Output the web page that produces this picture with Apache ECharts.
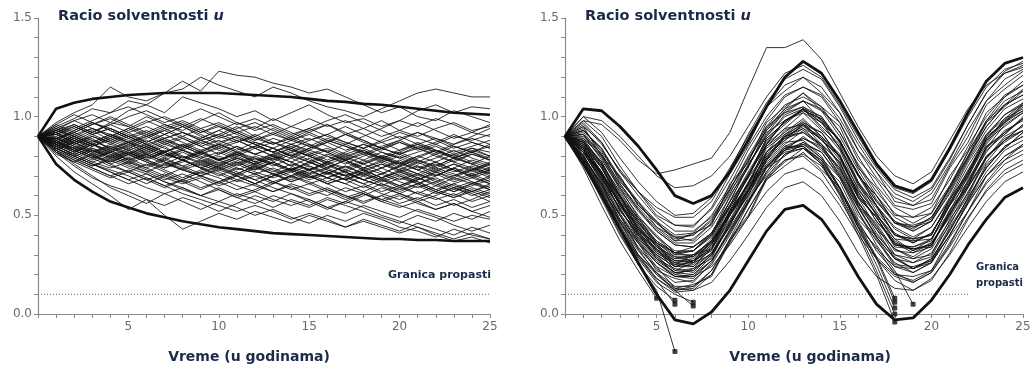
<!DOCTYPE html>
<html>
<head>
<meta charset="utf-8">
<script src="https://cdn.jsdelivr.net/npm/echarts@6/dist/echarts.min.js"></script>
<style>
  html, body { margin: 0; padding: 0; background: #fff; }
  #chart { width: 1034px; height: 369px; }
</style>
</head>
<body>
<div id="chart"></div>
<script>
const years = [0,1,2,3,4,5,6,7,8,9,10,11,12,13,14,15,16,17,18,19,20,21,22,23,24,25];
const ruinLevel = 0.1;

// left panel: constant premium, simulated paths + bounds
const leftUpper = [0.90,1.04,1.07,1.09,1.10,1.11,1.115,1.12,1.12,1.12,1.12,1.115,1.11,1.105,1.10,1.09,1.08,1.075,1.065,1.06,1.05,1.04,1.03,1.02,1.015,1.01];
const leftLower = [0.90,0.76,0.68,0.62,0.57,0.54,0.51,0.49,0.47,0.455,0.44,0.43,0.42,0.41,0.405,0.40,0.395,0.39,0.385,0.38,0.38,0.375,0.375,0.37,0.37,0.37];
const leftPaths = [
  [0.90,0.97,1.02,1.06,1.15,1.10,1.08,1.12,1.18,1.13,1.23,1.21,1.20,1.17,1.15,1.12,1.14,1.10,1.06,1.02,1.05,1.00,0.98,1.03,1.00,0.97],
  [0.90,0.95,0.99,1.04,1.02,1.08,1.06,1.12,1.14,1.20,1.16,1.13,1.10,1.15,1.12,1.08,1.05,1.03,1.00,1.04,1.08,1.12,1.14,1.12,1.10,1.10],
  [0.90,0.93,0.98,1.01,0.97,1.03,1.06,1.02,1.10,1.07,1.04,1.00,1.03,0.98,1.02,1.06,1.01,0.97,0.99,0.95,0.98,1.03,1.06,1.02,1.05,1.04],
  [0.90,0.92,0.96,0.92,0.97,0.95,1.00,0.96,0.93,0.98,1.02,0.97,0.94,0.99,0.95,0.92,0.96,0.91,0.94,0.98,0.93,0.90,0.94,0.97,0.93,0.95],
  [0.90,0.88,0.93,0.97,0.94,0.90,0.93,0.89,0.92,0.88,0.91,0.95,0.90,0.86,0.90,0.94,0.90,0.87,0.84,0.88,0.92,0.89,0.86,0.90,0.88,0.91],
  [0.90,0.86,0.89,0.85,0.88,0.92,0.87,0.91,0.95,0.90,0.86,0.83,0.87,0.84,0.80,0.84,0.88,0.85,0.82,0.78,0.81,0.85,0.82,0.79,0.83,0.80],
  [0.90,0.91,0.87,0.90,0.86,0.83,0.86,0.82,0.85,0.81,0.84,0.80,0.76,0.79,0.83,0.80,0.77,0.81,0.78,0.74,0.77,0.73,0.76,0.72,0.75,0.71],
  [0.90,0.84,0.80,0.83,0.79,0.82,0.78,0.75,0.78,0.74,0.77,0.73,0.76,0.79,0.75,0.71,0.74,0.70,0.73,0.69,0.72,0.68,0.71,0.67,0.70,0.66],
  [0.90,0.82,0.78,0.74,0.70,0.73,0.69,0.65,0.68,0.64,0.67,0.63,0.66,0.62,0.65,0.61,0.64,0.60,0.57,0.60,0.56,0.59,0.55,0.58,0.54,0.57],
  [0.90,0.80,0.72,0.66,0.60,0.53,0.58,0.50,0.43,0.47,0.51,0.48,0.52,0.49,0.46,0.50,0.47,0.44,0.48,0.45,0.42,0.46,0.43,0.40,0.44,0.41],
  [0.90,0.83,0.76,0.70,0.64,0.60,0.56,0.61,0.57,0.53,0.57,0.54,0.50,0.53,0.49,0.46,0.50,0.47,0.51,0.48,0.44,0.42,0.39,0.43,0.40,0.38],
  [0.90,0.87,0.83,0.87,0.91,0.88,0.84,0.80,0.84,0.88,0.85,0.81,0.85,0.89,0.86,0.82,0.78,0.82,0.86,0.83,0.87,0.84,0.80,0.77,0.81,0.78],
  [0.90,0.94,0.90,0.86,0.82,0.86,0.90,0.94,0.90,0.86,0.90,0.94,0.97,0.93,0.89,0.93,0.96,0.92,0.88,0.84,0.87,0.83,0.86,0.82,0.85,0.88],
  [0.90,0.89,0.85,0.81,0.77,0.81,0.77,0.73,0.69,0.73,0.76,0.72,0.68,0.71,0.67,0.70,0.66,0.62,0.65,0.61,0.58,0.62,0.59,0.55,0.58,0.62],
  [0.90,0.85,0.88,0.84,0.81,0.77,0.74,0.78,0.82,0.78,0.74,0.71,0.75,0.78,0.82,0.86,0.82,0.78,0.74,0.77,0.73,0.70,0.74,0.71,0.67,0.64],
  [0.90,0.96,1.01,0.97,0.93,0.89,0.92,0.88,0.85,0.89,0.93,0.89,0.86,0.82,0.79,0.83,0.80,0.76,0.80,0.84,0.81,0.77,0.81,0.85,0.82,0.86],
  [0.90,0.81,0.77,0.81,0.76,0.72,0.76,0.72,0.68,0.72,0.69,0.65,0.62,0.66,0.70,0.67,0.63,0.60,0.56,0.60,0.64,0.61,0.65,0.69,0.66,0.70],
  [0.90,0.88,0.92,0.96,0.99,0.95,0.91,0.95,0.98,0.94,0.90,0.87,0.91,0.87,0.84,0.88,0.91,0.95,0.91,0.87,0.90,0.86,0.83,0.79,0.76,0.73],
  [0.90,0.87,0.83,0.79,0.75,0.72,0.68,0.64,0.68,0.72,0.75,0.79,0.76,0.72,0.76,0.73,0.69,0.66,0.70,0.74,0.70,0.67,0.63,0.60,0.64,0.61],
  [0.90,0.92,0.88,0.85,0.89,0.93,0.97,1.00,0.96,0.92,0.95,0.91,0.87,0.84,0.80,0.77,0.81,0.78,0.74,0.71,0.75,0.79,0.83,0.80,0.84,0.82],
  [0.90,0.84,0.79,0.75,0.78,0.74,0.71,0.67,0.64,0.60,0.63,0.59,0.56,0.60,0.57,0.54,0.58,0.55,0.52,0.49,0.46,0.50,0.47,0.51,0.48,0.52],
  [0.90,0.86,0.82,0.86,0.83,0.79,0.83,0.87,0.83,0.80,0.76,0.80,0.84,0.80,0.77,0.73,0.77,0.74,0.78,0.82,0.79,0.75,0.72,0.76,0.73,0.69],
  [0.90,0.93,0.96,0.92,0.96,1.00,1.03,0.99,0.95,0.99,0.95,0.92,0.95,0.91,0.88,0.85,0.89,0.86,0.90,0.94,0.98,0.95,0.99,0.96,0.92,0.90],
  [0.90,0.85,0.81,0.77,0.80,0.76,0.80,0.83,0.79,0.82,0.78,0.74,0.71,0.74,0.70,0.73,0.76,0.72,0.68,0.71,0.67,0.64,0.67,0.63,0.66,0.63],
  [0.90,0.89,0.86,0.90,0.87,0.83,0.79,0.82,0.78,0.75,0.79,0.76,0.72,0.69,0.72,0.68,0.71,0.75,0.71,0.68,0.64,0.68,0.72,0.69,0.73,0.76],
  [0.90,0.83,0.87,0.83,0.80,0.84,0.80,0.76,0.80,0.77,0.81,0.85,0.81,0.78,0.82,0.78,0.75,0.72,0.68,0.65,0.69,0.66,0.70,0.74,0.78,0.75],
  [0.90,0.91,0.94,0.98,1.02,1.05,1.01,0.97,1.00,1.04,1.00,0.96,0.99,0.95,0.91,0.94,0.98,1.01,0.97,0.93,0.89,0.92,0.88,0.84,0.87,0.84],
  [0.90,0.82,0.75,0.69,0.65,0.62,0.58,0.55,0.59,0.56,0.52,0.56,0.60,0.57,0.61,0.58,0.54,0.51,0.55,0.52,0.49,0.53,0.50,0.47,0.50,0.48],
  [0.90,0.87,0.90,0.86,0.90,0.86,0.82,0.86,0.83,0.87,0.83,0.79,0.76,0.80,0.77,0.81,0.84,0.80,0.83,0.79,0.76,0.80,0.77,0.73,0.70,0.73],
  [0.90,0.86,0.83,0.79,0.82,0.85,0.81,0.77,0.73,0.76,0.72,0.68,0.65,0.62,0.66,0.63,0.60,0.64,0.61,0.58,0.55,0.52,0.49,0.45,0.42,0.45],
  [0.90,0.95,0.91,0.94,0.90,0.87,0.90,0.93,0.89,0.85,0.88,0.84,0.81,0.84,0.88,0.92,0.88,0.85,0.81,0.85,0.88,0.92,0.89,0.86,0.90,0.94],
  [0.90,0.88,0.84,0.80,0.84,0.81,0.85,0.81,0.78,0.74,0.70,0.74,0.71,0.67,0.70,0.74,0.71,0.68,0.72,0.68,0.65,0.69,0.66,0.62,0.65,0.68],
  [0.90,0.91,0.87,0.91,0.94,0.90,0.86,0.89,0.92,0.88,0.84,0.87,0.90,0.94,0.90,0.86,0.82,0.86,0.82,0.79,0.82,0.78,0.75,0.79,0.82,0.79],
  [0.90,0.84,0.80,0.76,0.73,0.70,0.66,0.70,0.67,0.63,0.67,0.71,0.68,0.64,0.61,0.57,0.53,0.57,0.54,0.50,0.47,0.44,0.40,0.37,0.39,0.36],
  [0.90,0.87,0.84,0.80,0.77,0.81,0.85,0.81,0.78,0.82,0.86,0.90,0.86,0.82,0.86,0.83,0.87,0.91,0.88,0.84,0.81,0.84,0.81,0.77,0.74,0.71],
  [0.90,0.89,0.85,0.82,0.85,0.81,0.77,0.74,0.77,0.81,0.78,0.75,0.79,0.76,0.73,0.77,0.74,0.78,0.82,0.79,0.76,0.73,0.70,0.74,0.71,0.74],
  [0.90,0.92,0.86,0.89,0.83,0.87,0.81,0.85,0.79,0.83,0.78,0.82,0.77,0.80,0.75,0.79,0.74,0.78,0.73,0.76,0.72,0.75,0.70,0.74,0.69,0.72],
  [0.90,0.85,0.89,0.93,0.88,0.84,0.88,0.84,0.80,0.76,0.80,0.77,0.73,0.77,0.81,0.77,0.73,0.70,0.74,0.78,0.74,0.71,0.75,0.79,0.76,0.80],
  [0.90,0.88,0.83,0.79,0.83,0.78,0.74,0.70,0.74,0.70,0.66,0.70,0.66,0.70,0.73,0.69,0.72,0.68,0.64,0.68,0.71,0.67,0.63,0.66,0.62,0.59],
  [0.90,0.94,0.98,0.94,0.90,0.94,0.98,0.94,0.97,0.93,0.89,0.92,0.88,0.91,0.95,0.99,0.95,0.98,0.94,0.90,0.93,0.97,0.93,0.89,0.92,0.96],
  [0.90,0.86,0.80,0.76,0.72,0.68,0.71,0.67,0.63,0.60,0.64,0.60,0.63,0.67,0.63,0.66,0.62,0.58,0.61,0.57,0.60,0.56,0.53,0.56,0.52,0.55],
  [0.90,0.90,0.86,0.82,0.86,0.90,0.86,0.82,0.78,0.82,0.86,0.82,0.79,0.75,0.79,0.75,0.71,0.75,0.71,0.74,0.78,0.74,0.77,0.81,0.77,0.74],
  [0.90,0.83,0.79,0.75,0.79,0.75,0.72,0.76,0.73,0.70,0.73,0.70,0.74,0.71,0.68,0.72,0.69,0.73,0.70,0.66,0.63,0.66,0.62,0.66,0.69,0.66],
  [0.90,0.93,0.90,0.94,0.91,0.87,0.91,0.87,0.90,0.94,0.97,0.93,0.89,0.86,0.89,0.85,0.82,0.78,0.81,0.77,0.80,0.76,0.79,0.83,0.79,0.76],
  [0.90,0.87,0.82,0.86,0.81,0.77,0.81,0.77,0.73,0.70,0.67,0.70,0.66,0.70,0.74,0.70,0.66,0.69,0.73,0.69,0.72,0.69,0.65,0.62,0.66,0.69],
  [0.90,0.96,0.92,0.96,1.00,0.96,0.92,0.96,0.92,0.89,0.93,0.97,0.93,0.96,0.92,0.88,0.91,0.87,0.84,0.87,0.83,0.86,0.89,0.85,0.82,0.85],
  [0.90,0.84,0.87,0.82,0.78,0.82,0.78,0.82,0.78,0.74,0.78,0.81,0.77,0.73,0.69,0.73,0.69,0.72,0.68,0.71,0.75,0.71,0.68,0.64,0.67,0.63],
  [0.90,0.89,0.92,0.88,0.84,0.80,0.84,0.80,0.83,0.79,0.75,0.79,0.75,0.71,0.74,0.70,0.66,0.69,0.66,0.62,0.65,0.61,0.58,0.61,0.57,0.60],
  [0.90,0.82,0.77,0.73,0.69,0.72,0.68,0.71,0.67,0.70,0.74,0.70,0.66,0.70,0.73,0.77,0.73,0.70,0.66,0.69,0.65,0.68,0.72,0.68,0.71,0.67],
  [0.90,0.91,0.95,0.91,0.87,0.91,0.87,0.91,0.95,0.91,0.87,0.90,0.86,0.82,0.86,0.89,0.85,0.81,0.84,0.80,0.83,0.87,0.83,0.79,0.82,0.78],
  [0.90,0.86,0.90,0.86,0.82,0.78,0.81,0.77,0.74,0.77,0.73,0.76,0.80,0.76,0.72,0.75,0.72,0.68,0.72,0.76,0.73,0.77,0.73,0.70,0.73,0.77],
  [0.90,0.85,0.81,0.84,0.80,0.76,0.72,0.68,0.71,0.67,0.63,0.59,0.62,0.58,0.55,0.58,0.54,0.57,0.61,0.57,0.54,0.57,0.53,0.56,0.52,0.49],
  [0.90,0.93,0.89,0.85,0.89,0.85,0.89,0.93,0.96,0.92,0.96,0.92,0.88,0.92,0.88,0.91,0.87,0.91,0.87,0.84,0.88,0.84,0.87,0.91,0.87,0.84],
  [0.90,0.87,0.84,0.80,0.76,0.79,0.75,0.79,0.75,0.78,0.74,0.77,0.73,0.77,0.73,0.76,0.80,0.77,0.73,0.69,0.73,0.69,0.73,0.76,0.72,0.76],
  [0.90,0.88,0.84,0.88,0.84,0.87,0.83,0.79,0.83,0.79,0.82,0.78,0.74,0.77,0.73,0.69,0.72,0.68,0.71,0.67,0.70,0.66,0.69,0.65,0.62,0.65],
  [0.90,0.92,0.88,0.92,0.96,0.92,0.95,0.91,0.87,0.83,0.86,0.82,0.85,0.82,0.85,0.81,0.77,0.80,0.76,0.79,0.75,0.78,0.74,0.78,0.81,0.78],
  [0.90,0.84,0.80,0.76,0.72,0.68,0.64,0.61,0.64,0.60,0.57,0.61,0.58,0.54,0.58,0.55,0.59,0.56,0.60,0.64,0.61,0.58,0.62,0.59,0.63,0.60],
  [0.90,0.89,0.93,0.97,0.93,0.89,0.85,0.89,0.85,0.81,0.85,0.88,0.84,0.87,0.83,0.80,0.83,0.79,0.76,0.80,0.76,0.80,0.83,0.80,0.76,0.72],
  [0.90,0.86,0.82,0.78,0.82,0.78,0.82,0.78,0.75,0.71,0.75,0.71,0.75,0.71,0.67,0.71,0.67,0.71,0.68,0.65,0.61,0.65,0.61,0.64,0.61,0.57],
  [0.90,0.94,0.90,0.86,0.90,0.94,0.90,0.86,0.89,0.85,0.81,0.85,0.81,0.84,0.80,0.84,0.87,0.83,0.86,0.82,0.79,0.82,0.85,0.81,0.84,0.80],
  [0.90,0.85,0.81,0.77,0.74,0.77,0.73,0.69,0.66,0.69,0.65,0.68,0.71,0.67,0.64,0.60,0.63,0.59,0.62,0.58,0.61,0.57,0.60,0.64,0.60,0.63],
  [0.90,0.91,0.87,0.83,0.79,0.83,0.79,0.82,0.86,0.82,0.78,0.81,0.77,0.81,0.84,0.80,0.76,0.72,0.76,0.72,0.68,0.71,0.67,0.70,0.74,0.70],
  [0.90,0.87,0.91,0.87,0.91,0.87,0.84,0.88,0.84,0.88,0.91,0.88,0.84,0.80,0.84,0.80,0.76,0.79,0.83,0.79,0.82,0.86,0.82,0.86,0.89,0.86],
  [0.90,0.83,0.78,0.74,0.70,0.66,0.69,0.65,0.61,0.58,0.55,0.52,0.55,0.52,0.48,0.51,0.48,0.44,0.47,0.44,0.41,0.44,0.41,0.38,0.41,0.38],
  [0.90,0.89,0.85,0.81,0.85,0.82,0.78,0.74,0.78,0.74,0.71,0.67,0.70,0.66,0.70,0.66,0.69,0.66,0.62,0.66,0.62,0.66,0.62,0.59,0.62,0.66],
  [0.90,0.92,0.95,0.91,0.94,0.90,0.86,0.82,0.86,0.82,0.78,0.82,0.78,0.81,0.77,0.73,0.77,0.73,0.77,0.80,0.77,0.73,0.77,0.73,0.70,0.73]
];

// right panel: cyclical premium, paths stop at ruin
const rightUpper = [0.90,1.04,1.03,0.95,0.85,0.73,0.60,0.56,0.60,0.72,0.88,1.05,1.20,1.28,1.22,1.08,0.92,0.76,0.65,0.62,0.68,0.84,1.02,1.18,1.27,1.30];
const rightLower = [0.90,0.76,0.60,0.43,0.26,0.10,-0.03,-0.05,0.01,0.12,0.27,0.42,0.53,0.55,0.48,0.35,0.19,0.05,-0.03,-0.02,0.07,0.20,0.35,0.48,0.59,0.64];
const rightPaths = [
  [0.90,0.96,0.86,0.73,0.62,0.54,0.49,0.49,0.57,0.73,0.91,1.07,1.19,1.24,1.19,1.05,0.88,0.74,0.63,0.59,0.64,0.79,0.96,1.12,1.23,1.28],
  [0.90,0.93,0.83,0.68,0.56,0.46,0.39,0.40,0.48,0.63,0.80,0.95,1.06,1.10,1.05,0.92,0.75,0.60,0.49,0.44,0.49,0.63,0.80,0.95,1.06,1.11],
  [0.90,0.90,0.79,0.63,0.50,0.39,0.32,0.32,0.40,0.55,0.72,0.87,0.98,1.02,0.97,0.84,0.67,0.52,0.41,0.36,0.41,0.55,0.72,0.87,0.98,1.03],
  [0.90,0.86,0.74,0.58,0.45,0.34,0.27,0.27,0.35,0.50,0.67,0.82,0.93,0.97,0.92,0.79,0.62,0.47,0.36,0.31,0.36,0.50,0.67,0.82,0.93,0.98],
  [0.90,0.84,0.70,0.53,0.40,0.28,0.21,0.22,0.30,0.45,0.62,0.78,0.90,0.95,0.90,0.78,0.62,0.47,0.37,0.32,0.38,0.52,0.70,0.86,0.97,1.03],
  [0.90,0.80,0.65,0.48,0.34,0.23,0.16,0.17,0.25,0.40,0.57,0.72,0.83,0.87,0.82,0.69,0.52,0.37,0.26,0.21,0.26,0.40,0.57,0.72,0.83,0.88],
  [0.90,0.78,0.62,0.44,0.30,0.18,0.12,0.13,0.22,0.38,0.56,0.72,0.84,0.89,0.85,0.73,0.57,0.43,0.33,0.29,0.35,0.50,0.68,0.84,0.96,1.02],
  [0.90,0.92,0.81,0.66,0.53,0.42,0.35,0.34,0.41,0.55,0.71,0.85,0.94,0.96,0.89,0.75,0.57,0.41,0.29,0.23,0.27,0.40,0.56,0.70,0.80,0.85],
  [0.90,0.98,0.90,0.75,0.62,0.52,0.45,0.45,0.53,0.68,0.85,1.00,1.11,1.15,1.10,0.97,0.80,0.65,0.54,0.49,0.54,0.68,0.85,1.00,1.11,1.16],
  [0.90,0.76,0.58,0.40,0.25,0.14,0.07],
  [0.90,0.74,0.55,0.37,0.22,0.08],
  [0.90,0.79,0.62,0.44,0.28,0.16,0.10,0.06],
  [0.90,0.77,0.59,0.41,0.25,0.12,-0.19],
  [0.90,0.80,0.64,0.47,0.33,0.20,0.12,0.04],
  [0.90,0.78,0.61,0.43,0.29,0.17,0.05],
  [0.90,0.83,0.70,0.53,0.40,0.29,0.22,0.23,0.31,0.46,0.62,0.75,0.84,0.86,0.79,0.64,0.46,0.29,0.08],
  [0.90,0.87,0.75,0.59,0.46,0.36,0.30,0.30,0.37,0.51,0.66,0.79,0.87,0.88,0.80,0.64,0.44,0.25,0.03],
  [0.90,0.85,0.72,0.56,0.43,0.33,0.27,0.28,0.36,0.50,0.65,0.77,0.85,0.85,0.76,0.60,0.40,0.20,-0.04],
  [0.90,0.88,0.77,0.61,0.48,0.37,0.31,0.32,0.40,0.54,0.69,0.82,0.90,0.92,0.85,0.70,0.52,0.35,0.22,0.05],
  [0.90,0.82,0.68,0.51,0.38,0.27,0.21,0.22,0.30,0.45,0.61,0.74,0.83,0.85,0.78,0.63,0.45,0.28,0.06],
  [0.90,0.84,0.71,0.55,0.42,0.31,0.25,0.26,0.34,0.48,0.63,0.76,0.84,0.85,0.77,0.61,0.42,0.22,0.00],
  [0.90,1.00,0.92,0.79,0.67,0.57,0.50,0.51,0.59,0.74,0.90,1.05,1.16,1.20,1.15,1.02,0.86,0.72,0.61,0.57,0.63,0.78,0.96,1.12,1.22,1.26],
  [0.90,0.88,0.76,0.60,0.47,0.37,0.31,0.32,0.41,0.57,0.75,0.91,1.03,1.08,1.04,0.92,0.76,0.62,0.51,0.46,0.51,0.65,0.82,0.97,1.08,1.13],
  [0.90,0.83,0.69,0.53,0.39,0.28,0.21,0.20,0.27,0.41,0.57,0.71,0.81,0.84,0.78,0.64,0.47,0.32,0.21,0.16,0.21,0.35,0.52,0.67,0.78,0.83],
  [0.90,0.80,0.66,0.50,0.37,0.26,0.19,0.20,0.29,0.45,0.63,0.79,0.91,0.96,0.92,0.80,0.64,0.50,0.40,0.36,0.41,0.56,0.73,0.88,0.99,1.04],
  [0.90,0.91,0.81,0.66,0.54,0.44,0.37,0.38,0.46,0.61,0.78,0.93,1.04,1.08,1.03,0.90,0.73,0.58,0.47,0.42,0.47,0.61,0.78,0.93,1.04,1.09],
  [0.90,0.87,0.74,0.59,0.46,0.35,0.28,0.29,0.37,0.52,0.70,0.86,0.98,1.03,0.99,0.87,0.71,0.57,0.47,0.43,0.49,0.64,0.82,0.98,1.10,1.16],
  [0.90,0.79,0.63,0.46,0.32,0.21,0.14,0.14,0.22,0.37,0.53,0.68,0.78,0.81,0.75,0.61,0.44,0.28,0.17,0.12,0.17,0.31,0.48,0.63,0.73,0.78],
  [0.90,0.95,0.87,0.72,0.60,0.49,0.42,0.42,0.49,0.63,0.79,0.93,1.02,1.05,0.98,0.84,0.66,0.50,0.38,0.32,0.36,0.49,0.65,0.79,0.89,0.93],
  [0.90,0.91,0.80,0.64,0.52,0.42,0.35,0.34,0.41,0.57,0.75,0.90,1.00,1.04,1.00,0.88,0.71,0.55,0.43,0.38,0.44,0.59,0.77,0.91,1.01,1.07],
  [0.90,0.85,0.72,0.55,0.41,0.30,0.24,0.25,0.33,0.47,0.63,0.78,0.90,0.94,0.89,0.76,0.59,0.44,0.33,0.28,0.33,0.47,0.64,0.79,0.90,0.95],
  [0.90,0.87,0.76,0.60,0.47,0.36,0.29,0.29,0.36,0.50,0.66,0.80,0.89,0.92,0.86,0.72,0.55,0.39,0.28,0.23,0.28,0.42,0.59,0.74,0.85,0.90],
  [0.90,0.85,0.72,0.56,0.43,0.32,0.26,0.27,0.36,0.52,0.70,0.86,0.98,1.03,0.99,0.87,0.71,0.57,0.46,0.42,0.47,0.62,0.79,0.95,1.06,1.11],
  [0.90,0.93,0.84,0.69,0.57,0.47,0.40,0.41,0.50,0.65,0.83,0.98,1.10,1.15,1.11,0.99,0.83,0.69,0.59,0.55,0.61,0.76,0.93,1.08,1.19,1.24],
  [0.90,0.77,0.60,0.43,0.29,0.18,0.11,0.12,0.20,0.36,0.53,0.69,0.81,0.86,0.82,0.70,0.54,0.40,0.30,0.26,0.31,0.45,0.62,0.77,0.88,0.93],
  [0.90,0.89,0.80,0.65,0.53,0.43,0.36,0.36,0.44,0.59,0.76,0.90,1.01,1.05,1.00,0.87,0.70,0.55,0.44,0.39,0.44,0.58,0.75,0.90,1.01,1.06],
  [0.90,0.82,0.67,0.50,0.37,0.26,0.19,0.19,0.27,0.42,0.59,0.74,0.85,0.89,0.84,0.71,0.54,0.39,0.28,0.23,0.28,0.42,0.59,0.74,0.85,0.90],
  [0.90,0.98,0.96,0.88,0.78,0.71,0.73,0.76,0.79,0.92,1.14,1.35,1.35,1.39,1.29,1.12,0.95,0.80,0.70,0.66,0.72,0.88,1.04,1.16,1.22,1.25],
  [0.90,1.00,0.98,0.90,0.80,0.70,0.64,0.65,0.70,0.80,0.95,1.10,1.22,1.26,1.20,1.06,0.90,0.75,0.64,0.61,0.67,0.83,1.00,1.15,1.24,1.27],
  [0.90,0.82,0.72,0.55,0.44,0.31,0.26,0.24,0.33,0.52,0.66,0.84,0.91,0.98,0.90,0.80,0.60,0.49,0.34,0.33,0.35,0.52,0.66,0.84,0.92,0.99],
  [0.90,0.88,0.70,0.60,0.42,0.36,0.25,0.30,0.33,0.53,0.65,0.85,0.92,0.99,0.90,0.81,0.60,0.49,0.35,0.33,0.34,0.53,0.65,0.85,0.91,1.00],
  [0.90,0.95,0.80,0.70,0.55,0.47,0.37,0.41,0.45,0.66,0.77,0.97,1.05,1.12,1.03,0.95,0.74,0.64,0.50,0.49,0.51,0.70,0.83,1.02,1.10,1.18],
  [0.90,0.79,0.66,0.46,0.36,0.22,0.18,0.16,0.26,0.42,0.56,0.74,0.80,0.87,0.79,0.69,0.50,0.39,0.25,0.24,0.27,0.44,0.58,0.76,0.84,0.92],
  [0.90,0.84,0.68,0.57,0.40,0.33,0.22,0.26,0.30,0.50,0.62,0.82,0.90,0.97,0.88,0.80,0.59,0.49,0.35,0.34,0.37,0.56,0.69,0.89,0.97,1.06],
  [0.90,0.91,0.78,0.64,0.49,0.40,0.31,0.34,0.40,0.60,0.74,0.94,1.04,1.12,1.05,0.97,0.78,0.68,0.55,0.53,0.56,0.74,0.87,1.06,1.14,1.21],
  [0.90,0.81,0.63,0.50,0.33,0.24,0.13,0.15,0.19,0.37,0.49,0.68,0.75,0.82,0.73,0.64,0.44,0.34,0.20,0.19,0.22,0.39,0.52,0.70,0.78,0.86],
  [0.90,0.86,0.75,0.57,0.47,0.34,0.29,0.27,0.37,0.54,0.69,0.88,0.96,1.04,0.97,0.88,0.70,0.60,0.46,0.45,0.48,0.65,0.80,0.98,1.06,1.14],
  [0.90,0.93,0.84,0.67,0.57,0.44,0.39,0.37,0.46,0.62,0.75,0.92,0.98,1.04,0.94,0.83,0.63,0.51,0.36,0.33,0.35,0.51,0.64,0.80,0.87,0.93],
  [0.90,0.83,0.71,0.52,0.42,0.28,0.23,0.21,0.30,0.46,0.60,0.78,0.86,0.93,0.86,0.77,0.59,0.49,0.35,0.34,0.38,0.55,0.71,0.89,0.98,1.06],
  [0.90,0.86,0.71,0.60,0.43,0.35,0.24,0.27,0.32,0.51,0.63,0.82,0.89,0.96,0.86,0.77,0.56,0.45,0.30,0.28,0.30,0.48,0.61,0.80,0.88,0.96],
  [0.90,0.97,0.87,0.72,0.62,0.50,0.45,0.44,0.54,0.71,0.86,1.05,1.13,1.20,1.12,1.02,0.83,0.72,0.57,0.55,0.58,0.75,0.90,1.08,1.16,1.23],
  [0.90,0.78,0.60,0.47,0.30,0.21,0.12,0.14,0.20,0.38,0.50,0.69,0.77,0.84,0.76,0.67,0.48,0.38,0.24,0.23,0.26,0.43,0.57,0.75,0.84,0.92],
  [0.90,0.85,0.74,0.56,0.45,0.32,0.27,0.26,0.35,0.51,0.64,0.81,0.88,0.94,0.85,0.74,0.55,0.43,0.28,0.26,0.29,0.46,0.60,0.79,0.88,0.96],
  [0.90,0.89,0.76,0.62,0.48,0.39,0.30,0.32,0.39,0.57,0.70,0.89,0.97,1.04,0.95,0.86,0.66,0.55,0.40,0.38,0.40,0.58,0.71,0.90,0.97,1.05],
  [0.90,0.82,0.67,0.54,0.38,0.30,0.20,0.23,0.28,0.47,0.60,0.80,0.88,0.96,0.88,0.80,0.61,0.51,0.38,0.37,0.40,0.58,0.72,0.91,0.99,1.07],
  [0.90,0.80,0.65,0.48,0.36,0.24,0.19,0.18,0.27,0.43,0.57,0.75,0.83,0.90,0.83,0.74,0.56,0.46,0.32,0.31,0.34,0.51,0.65,0.83,0.91,0.99],
  [0.90,0.94,0.82,0.69,0.55,0.46,0.38,0.40,0.47,0.64,0.77,0.95,1.02,1.08,0.98,0.88,0.67,0.55,0.40,0.37,0.38,0.55,0.67,0.85,0.92,0.99],
  [0.90,0.87,0.77,0.59,0.49,0.36,0.31,0.29,0.38,0.55,0.70,0.89,0.97,1.04,0.97,0.88,0.70,0.60,0.46,0.44,0.47,0.64,0.79,0.97,1.05,1.13],
  [0.90,0.84,0.70,0.56,0.41,0.33,0.24,0.27,0.33,0.52,0.66,0.86,0.94,1.02,0.93,0.85,0.65,0.54,0.40,0.38,0.40,0.57,0.70,0.88,0.95,1.02],
  [0.90,0.78,0.62,0.45,0.30,0.20,0.13,0.12,0.16,0.27,0.40,0.54,0.64,0.67,0.60,0.47,0.31,0.19,0.13,0.12,0.18,0.30,0.44,0.57,0.67,0.72],
  [0.90,0.80,0.66,0.50,0.36,0.26,0.20,0.19,0.24,0.35,0.49,0.62,0.71,0.74,0.68,0.55,0.40,0.28,0.19,0.16,0.21,0.34,0.49,0.62,0.71,0.76],
  [0.90,0.82,0.69,0.53,0.40,0.30,0.24,0.24,0.31,0.44,0.58,0.70,0.78,0.80,0.72,0.58,0.42,0.29,0.20,0.17,0.22,0.36,0.52,0.66,0.76,0.81],
  [0.90,0.84,0.71,0.57,0.44,0.34,0.28,0.30,0.37,0.50,0.63,0.75,0.82,0.84,0.76,0.62,0.46,0.33,0.24,0.21,0.26,0.40,0.56,0.70,0.80,0.86]
];

const leftRuinSpan = [0, 25];
const rightRuinSpan = [0, 22];

const titleText = '{a|Racio solventnosti }{b|u}';
const xName = 'Vreme (u godinama)';
const ruinText = 'Granica propasti';

const labelColor = '#6a6a6a';
const axisColor = '#8a8a8a';
const textColor = '#1c2a4a';
const fringe = 'rgba(230,140,40,0.55)';

function pts(vals) {
  return vals.map((v, i) => [years[i], v]);
}

function pathSeries(vals, idx, width, clip) {
  return {
    type: 'line',
    xAxisIndex: idx,
    yAxisIndex: idx,
    data: pts(vals),
    showSymbol: false,
    silent: true,
    clip: clip,
    lineStyle: { color: '#111', width: width },
    z: width > 1.5 ? 5 : 2
  };
}

function ruinSeries(span, idx) {
  return {
    type: 'line',
    xAxisIndex: idx,
    yAxisIndex: idx,
    data: span.map(x => [x, ruinLevel]),
    showSymbol: false,
    silent: true,
    lineStyle: { color: '#666', width: 1, type: [1, 2] },
    z: 1
  };
}

function xAxisCfg(gi, pad) {
  return {
    type: 'value', gridIndex: gi, min: 0, max: 25, interval: 1,
    name: xName, nameLocation: 'middle', nameGap: 36,
    nameTextStyle: { color: textColor, fontWeight: 'bold', fontSize: 14, fontFamily: 'DejaVu Sans',
      padding: pad, textShadowColor: fringe, textShadowOffsetX: -1, textShadowOffsetY: -1 },
    axisLine: { lineStyle: { color: axisColor, width: 1.2 } },
    axisTick: { length: 4, lineStyle: { color: axisColor } },
    splitLine: { show: false },
    axisLabel: {
      color: labelColor, fontSize: 12, fontFamily: 'DejaVu Sans', margin: 7,
      formatter: v => (v > 0 && v % 5 === 0) ? String(v) : ''
    }
  };
}

function yAxisCfg(gi) {
  return {
    type: 'value', gridIndex: gi, min: 0, max: 1.5, interval: 0.1,
    axisLine: { show: true, lineStyle: { color: axisColor, width: 1.2 } },
    axisTick: { show: true, length: 4, lineStyle: { color: axisColor } },
    splitLine: { show: false },
    axisLabel: {
      color: labelColor, fontSize: 12, fontFamily: 'DejaVu Sans', margin: 6,
      formatter: v => Math.abs(v * 2 - Math.round(v * 2)) < 1e-6 ? v.toFixed(1) : ''
    }
  };
}

function titleCfg(left) {
  const base = { color: textColor, fontWeight: 'bold', fontSize: 14.5, fontFamily: 'DejaVu Sans',
    textShadowColor: fringe, textShadowOffsetX: -1, textShadowOffsetY: -1 };
  return {
    text: titleText, left: left, top: 4,
    textStyle: { rich: { a: base, b: Object.assign({}, base, { fontStyle: 'italic' }) } }
  };
}

const series = [];
leftPaths.forEach(p => series.push(pathSeries(p, 0, 0.85, true)));
series.push(pathSeries(leftUpper, 0, 2.6, true));
series.push(pathSeries(leftLower, 0, 2.6, true));
series.push(ruinSeries(leftRuinSpan, 0));

rightPaths.forEach(p => series.push(pathSeries(p, 1, 0.85, false)));
series.push(pathSeries(rightUpper, 1, 2.8, false));
series.push(pathSeries(rightLower, 1, 2.8, false));
series.push(ruinSeries(rightRuinSpan, 1));

// ruined paths end with a dot
const ruinDots = rightPaths.filter(p => p.length < years.length).map(p => [years[p.length - 1], p[p.length - 1]]);
series.push({
  type: 'scatter', xAxisIndex: 1, yAxisIndex: 1, data: ruinDots, clip: false,
  symbol: 'roundRect', symbolSize: 5, itemStyle: { color: '#111' }, silent: true, z: 6
});

const ruinLabelStyle = { fill: textColor, fontWeight: 'bold', fontFamily: 'DejaVu Sans',
  textShadowColor: fringe, textShadowOffsetX: -1, textShadowOffsetY: -1 };

const chart = echarts.init(document.getElementById('chart'), null, { renderer: 'canvas' });
chart.setOption({
  animation: false,
  backgroundColor: '#fff',
  title: [titleCfg(53), titleCfg(580)],
  grid: [
    { left: 38, right: 544, top: 18, bottom: 54 },
    { left: 565, right: 11, top: 18, bottom: 54 }
  ],
  xAxis: [xAxisCfg(0, [0, 30, 0, 0]), xAxisCfg(1, [0, 0, 0, 32])],
  yAxis: [yAxisCfg(0), yAxisCfg(1)],
  graphic: [
    { type: 'text', left: 388, top: 270, style: Object.assign({ text: ruinText, fontSize: 11 }, ruinLabelStyle) },
    { type: 'text', left: 976, top: 259, style: Object.assign({ text: 'Granica\npropasti', fontSize: 10, lineHeight: 16 }, ruinLabelStyle) }
  ],
  series: series
});
</script>
</body>
</html>
